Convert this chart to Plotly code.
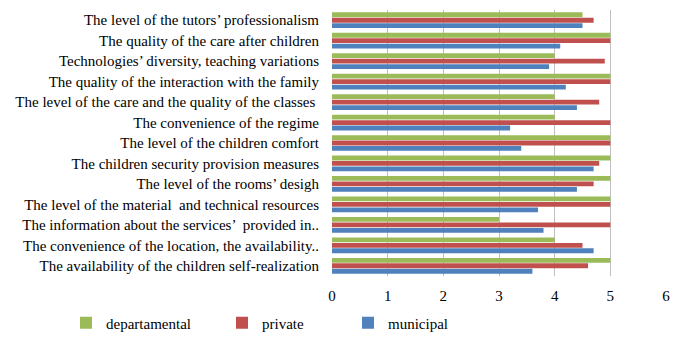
import plotly.graph_objects as go

categories = [
    "The availability of the children self-realization",
    "The convenience of the location, the availability..",
    "The information about the services’  provided in..",
    "The level of the material  and technical resources",
    "The level of the rooms’ desigh",
    "The children security provision measures",
    "The level of the children comfort",
    "The convenience of the regime",
    "The level of the care and the quality of the classes ",
    "The quality of the interaction with the family",
    "Technologies’ diversity, teaching variations",
    "The quality of the care after children",
    "The level of the tutors’ professionalism",
]
municipal = [3.6, 4.7, 3.8, 3.7, 4.4, 4.7, 3.4, 3.2, 4.4, 4.2, 3.9, 4.1, 4.5]
private = [4.6, 4.5, 5.0, 5.0, 4.7, 4.8, 5.0, 5.0, 4.8, 5.0, 4.9, 5.0, 4.7]
departamental = [5.0, 4.0, 3.0, 5.0, 5.0, 5.0, 5.0, 4.0, 4.0, 5.0, 4.0, 5.0, 4.5]
x_ticks = [0, 1, 2, 3, 4, 5, 6]

FONT = "Liberation Serif"

fig = go.Figure()
fig.add_trace(go.Bar(y=categories, x=municipal, orientation="h", name="municipal",
                     marker=dict(color="#4F81BD", line=dict(width=0)), legend="legend3"))
fig.add_trace(go.Bar(y=categories, x=private, orientation="h", name="private",
                     marker=dict(color="#C0504D", line=dict(width=0)), legend="legend2"))
fig.add_trace(go.Bar(y=categories, x=departamental, orientation="h", name="departamental",
                     marker=dict(color="#9BBB59", line=dict(width=0)), legend="legend",
                     showlegend=True))

leg_common = dict(orientation="h", yanchor="middle", yref="container", y=(339 - 323) / 339,
                  xanchor="left", xref="container",
                  font=dict(family=FONT, size=15, color="#000"), itemwidth=30,
                  bgcolor="rgba(0,0,0,0)")

fig.update_layout(
    width=682, height=339,
    showlegend=True,
    margin=dict(l=332, r=16, t=10, b=63, autoexpand=False),
    paper_bgcolor="white", plot_bgcolor="white",
    barmode="group", bargap=0.2, bargroupgap=0.12,
    font=dict(family=FONT, size=15, color="#000"),
    xaxis=dict(range=[0, 6], tickvals=x_ticks, showgrid=True, gridcolor="#BFBFBF",
               gridwidth=1, zeroline=False, showline=False, ticks="",
               ticklabelstandoff=9, tickfont=dict(family=FONT, size=15)),
    yaxis=dict(categoryorder="array", categoryarray=categories, showgrid=False,
               ticks="", ticklabelstandoff=12, showline=False,
               tickfont=dict(family=FONT, size=15)),
    legend=dict(x=66 / 682, **leg_common),
    legend2=dict(x=222 / 682, **leg_common),
    legend3=dict(x=348 / 682, **leg_common),
)

fig.write_html("out.html")
